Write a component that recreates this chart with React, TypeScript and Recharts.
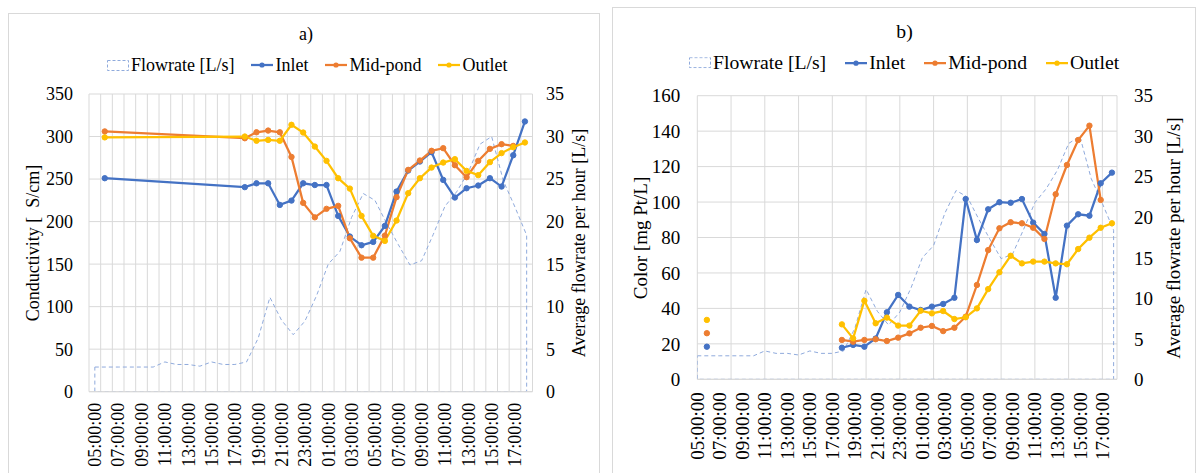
import React from "react";
import { ComposedChart, Line, Area, XAxis, YAxis, CartesianGrid } from "recharts";

const FONT = "Liberation Serif, DejaVu Serif, serif";

// hourly average flowrate [L/s], 05:00 day 1 -> 18:00 day 2
const flowTimes = [
  "05:00", "06:00", "07:00", "08:00", "09:00", "10:00", "11:00", "12:00", "13:00", "14:00",
  "15:00", "16:00", "17:00", "18:00", "19:00", "20:00", "21:00", "22:00", "23:00", "00:00",
  "01:00", "02:00", "03:00", "04:00", "05:00", "06:00", "07:00", "08:00", "09:00", "10:00",
  "11:00", "12:00", "13:00", "14:00", "15:00", "16:00", "17:00", "18:00",
];
const flowrate = [
  2.9, 2.9, 2.9, 2.9, 2.9, 2.9, 3.5, 3.2, 3.2, 3.0,
  3.5, 3.2, 3.2, 3.5, 6.3, 11.1, 8.4, 6.7, 8.3, 11.3,
  15.0, 16.5, 20.5, 23.3, 22.5, 19.8, 17.3, 14.9, 15.4, 18.5,
  21.8, 23.5, 25.8, 29.1, 30.0, 24.8, 21.7, 18.4,
];

// grab sample times
const sampleTimes = [
  "05:51", "17:51", "18:51", "19:51", "20:51", "21:51", "22:51", "23:51", "00:51", "01:51",
  "02:51", "03:51", "04:51", "05:51", "06:51", "07:51", "08:51", "09:51", "10:51", "11:51",
  "12:51", "13:51", "14:51", "15:51", "16:51", "17:51",
];

// conductivity [uS/cm]
const condInlet = [
  251, 240.5, 245, 245, 219.6, 224.7, 245, 243, 243, 206.7, 182.4, 172.2, 176.1,
  194.9, 235.3, 260, 270.6, 281.6, 249, 228.3, 239.2, 242.4, 251, 241.2, 278, 317.7,
];
const condMid = [
  306, 298, 305, 307, 305, 276, 222, 205, 215, 218.5, 180.4, 157.6, 157.6,
  183.5, 228.7, 260.8, 271.8, 283.2, 286.3, 266.3, 252.2, 271.4, 285.5, 291, 289, null,
];
const condOutlet = [
  299, 300, 295, 296, 295, 313.8, 304.7, 288.2, 271.4, 251, 238.8, 206.7, 183.2,
  177.3, 201.2, 233.4, 251, 263.5, 269.4, 273.4, 259.6, 254.6, 269.9, 280.5, 287.5, 293,
];

// color [mg Pt/L]
const colorInlet = [
  18.4, 17.8, 19.4, 18.4, 23, 37.8, 47.6, 41.0, 39.1, 41.0, 42.5, 46.0, 101.7,
  78.6, 95.9, 99.9, 99.6, 101.7, 88.4, 82.0, 46.0, 86.7, 93.1, 92.3, 110.6, 116.6,
];
const colorMid = [
  26.0, 22.2, 21.2, 22.2, 22.6, 21.6, 23.5, 25.9, 29.1, 30.1, 27.2, 29.1, 35.3,
  53.2, 72.9, 85.2, 88.6, 88.0, 85.5, 79.2, 104.4, 120.9, 135.0, 143.1, 101.2, null,
];
const colorOutlet = [
  33.5, 31.0, 23.1, 44.3, 31.6, 34.8, 30.3, 30.3, 38.7, 37.2, 38.5, 34.0, 35.0,
  40.0, 50.9, 60.4, 69.7, 65.4, 66.4, 66.4, 65.4, 64.9, 73.5, 79.9, 85.5, 88.0,
];
// no colour sample between the morning grab and the evening run
const colorGapTime = "11:00";

const xTickLabels = [
  "05:00:00", "07:00:00", "09:00:00", "11:00:00", "13:00:00", "15:00:00", "17:00:00",
  "19:00:00", "21:00:00", "23:00:00", "01:00:00", "03:00:00", "05:00:00", "07:00:00",
  "09:00:00", "11:00:00", "13:00:00", "15:00:00", "17:00:00",
];

const condTicks = [0, 50, 100, 150, 200, 250, 300, 350];
const colorTicks = [0, 20, 40, 60, 80, 100, 120, 140, 160];
const flowTicks = [0, 5, 10, 15, 20, 25, 30, 35];

// hours since 05:00 on day 1, wrapping past midnight
function toHours(list: string[]): number[] {
  let day = 0;
  let prev = -1;
  return list.map((t) => {
    const [hh, mm] = t.split(":").map(Number);
    if (hh < prev) day += 24;
    prev = hh;
    return day + hh + mm / 60 - 5;
  });
}

const flowHours = toHours(flowTimes);
const sampleHours = toHours(sampleTimes);
const tickHours = toHours(xTickLabels);
const tickLabelOf = new Map(tickHours.map((h, i) => [Math.round(h * 100), xTickLabels[i]]));

const flowRows = flowHours.map((h, i) => ({ h, flow: flowrate[i] }));
const condRows = sampleHours.map((h, i) => ({
  h, inlet: condInlet[i], mid: condMid[i], outlet: condOutlet[i],
}));
const colorRows: any[] = sampleHours.map((h, i) => ({
  h, inlet: colorInlet[i], mid: colorMid[i], outlet: colorOutlet[i],
}));
colorRows.splice(1, 0, {
  h: toHours([sampleTimes[0], colorGapTime])[1], inlet: null, mid: null, outlet: null,
});

const C_IN = "#4472C4";
const C_MID = "#ED7D31";
const C_OUT = "#FFC000";
const C_FLOW = "#8FAADC";
const GRID = "#D9D9D9";

const hourGrid: number[] = [];
for (let h = -0.5; h <= 37.5; h += 1) hourGrid.push(h);
const threeHourGrid: number[] = [];
for (let h = 0; h <= 36; h += 3) threeHourGrid.push(h);

const xTick = (fs: number) => (props: any) => {
  const { x, y, payload } = props;
  const label = tickLabelOf.get(Math.round(payload.value * 100)) ?? "";
  return (
    <text x={x} y={y} transform={`rotate(-90 ${x} ${y})`} textAnchor="end" dy="0.35em"
      fontSize={fs} fontFamily={FONT} fill="#000">{label}</text>
  );
};

const LineIcon = ({ color }: { color: string }) => (
  <svg width={22} height={10} style={{ display: "block" }}>
    <line x1={0} y1={5} x2={22} y2={5} stroke={color} strokeWidth={2.25} />
    <circle cx={11} cy={5} r={2.6} fill={color} />
  </svg>
);
const AreaIcon = () => (
  <svg width={22} height={11} style={{ display: "block" }}>
    <rect x={0.5} y={0.5} width={21} height={10} fill="none" stroke={C_FLOW} strokeDasharray="3 2" />
  </svg>
);

type PanelProps = {
  box: [number, number, number, number];
  chartPos: [number, number];
  size: [number, number];
  marginTop: number;
  yLeftW: number;
  yRightW: number;
  xH: number;
  xDomain: [number, number];
  gridHours: number[];
  leftDomain: [number, number];
  leftTicks: number[];
  tickGapL: number;
  tickGapR: number;
  tickGapX: number;
  rows: any[];
  fs: number;
  legendFs: number;
  title: string;
  titlePos: [number, number];
  legendPos: [number, number];
  legendGap: number;
  leftLabel: string;
  leftLabelPos: [number, number];
  rightLabelPos: [number, number];
};

function Panel(p: PanelProps) {
  const tickStyle = { fontSize: p.fs, fontFamily: FONT, fill: "#000" };
  const text = { position: "absolute" as const, fontFamily: FONT, fontSize: p.fs, color: "#000", whiteSpace: "pre" as const, lineHeight: 1 };
  const series = [
    { key: "inlet", color: C_IN },
    { key: "mid", color: C_MID },
    { key: "outlet", color: C_OUT },
  ];
  return (
    <>
      <div style={{ position: "absolute", left: p.box[0], top: p.box[1], width: p.box[2], height: p.box[3], border: `1px solid ${GRID}`, boxSizing: "border-box" }} />
      <div style={{ position: "absolute", left: p.chartPos[0], top: p.chartPos[1] }}>
        <ComposedChart width={p.size[0]} height={p.size[1]} data={flowRows}
          margin={{ top: p.marginTop, right: 0, bottom: 0, left: 0 }}>
          <CartesianGrid xAxisId="g" yAxisId="l" stroke={GRID} strokeWidth={1} fill="none" />
          <XAxis xAxisId="g" orientation="top" type="number" dataKey="h" domain={p.xDomain} ticks={p.gridHours}
            allowDataOverflow interval={0} hide />
          <XAxis xAxisId="t" type="number" dataKey="h" domain={p.xDomain} ticks={tickHours}
            allowDataOverflow interval={0} height={p.xH} tickSize={0} tickMargin={p.tickGapX}
            tickLine={false} axisLine={{ stroke: GRID }} tick={xTick(p.fs)} />
          <YAxis yAxisId="l" orientation="left" type="number" domain={p.leftDomain} ticks={p.leftTicks}
            allowDataOverflow interval={0} width={p.yLeftW} tickSize={0} tickMargin={p.tickGapL}
            tickLine={false} axisLine={false} tick={tickStyle} />
          <YAxis yAxisId="r" orientation="right" type="number" domain={[0, 35]} ticks={flowTicks}
            allowDataOverflow interval={0} width={p.yRightW} tickSize={0} tickMargin={p.tickGapR}
            tickLine={false} axisLine={false} tick={tickStyle} />
          <Area xAxisId="t" yAxisId="r" dataKey="flow" type="linear" className="flow-area"
            stroke="none" fill="none" isAnimationActive={false} dot={false} activeDot={false} />
          {series.map((s) => (
            <Line key={s.key} xAxisId="t" yAxisId="l" data={p.rows} dataKey={s.key} type="linear"
              stroke={s.color} strokeWidth={2.25} connectNulls={false}
              dot={{ r: 2.7, fill: s.color, stroke: s.color, strokeWidth: 1 }}
              activeDot={false} isAnimationActive={false} />
          ))}
        </ComposedChart>
      </div>
      <div style={{ ...text, fontSize: p.legendFs, left: p.titlePos[0], top: p.titlePos[1], transform: "translate(-50%, -50%)" }}>{p.title}</div>
      <div style={{ ...text, fontSize: p.legendFs, left: p.legendPos[0], top: p.legendPos[1], transform: "translateY(-50%)", display: "flex", alignItems: "center", gap: p.legendGap }}>
        <div style={{ display: "flex", alignItems: "center", gap: 2 }}><AreaIcon /><span>Flowrate [L/s]</span></div>
        <div style={{ display: "flex", alignItems: "center", gap: 2 }}><LineIcon color={C_IN} /><span>Inlet</span></div>
        <div style={{ display: "flex", alignItems: "center", gap: 2 }}><LineIcon color={C_MID} /><span>Mid-pond</span></div>
        <div style={{ display: "flex", alignItems: "center", gap: 2 }}><LineIcon color={C_OUT} /><span>Outlet</span></div>
      </div>
      <div style={{ ...text, left: p.leftLabelPos[0], top: p.leftLabelPos[1], transform: "translate(-50%, -50%) rotate(-90deg)" }}>{p.leftLabel}</div>
      <div style={{ ...text, left: p.rightLabelPos[0], top: p.rightLabelPos[1], transform: "translate(-50%, -50%) rotate(-90deg)" }}>Average flowrate per hour [L/s]</div>
    </>
  );
}

export default function App() {
  return (
    <div style={{ position: "relative", width: 1198, height: 473, overflow: "hidden", background: "#fff" }}>
      <style>{`
        body { margin: 0; }
        .flow-area .recharts-area-area { stroke: ${C_FLOW}; stroke-width: 1; stroke-dasharray: 4 3; fill: none; }
      `}</style>
      <Panel
        box={[8, 13, 592, 470]}
        chartPos={[8, 13]}
        size={[592, 460]}
        marginTop={81}
        yLeftW={81}
        yRightW={67.5}
        xH={81.3}
        xDomain={[-0.5, 37.5]}
        gridHours={hourGrid}
        leftDomain={[0, 350]}
        leftTicks={condTicks}
        tickGapL={16}
        tickGapR={13.5}
        tickGapX={11}
        rows={condRows}
        fs={18}
        legendFs={18}
        title="a)"
        titlePos={[306, 34]}
        legendPos={[107, 65]}
        legendGap={17}
        leftLabel="Conductivity [  S/cm]"
        leftLabelPos={[33, 243]}
        rightLabelPos={[579, 243]}
      />
      <Panel
        box={[612, 7, 584, 470]}
        chartPos={[612, 7]}
        size={[584, 466]}
        marginTop={88.7}
        yLeftW={85.3}
        yRightW={79}
        xH={93.7}
        xDomain={[0, 37.3]}
        gridHours={threeHourGrid}
        leftDomain={[0, 160]}
        leftTicks={colorTicks}
        tickGapL={17}
        tickGapR={17}
        tickGapX={13}
        rows={colorRows}
        fs={19}
        legendFs={19.7}
        title="b)"
        titlePos={[904.5, 31.5]}
        legendPos={[689, 63]}
        legendGap={19}
        leftLabel="Color [mg Pt/L]"
        leftLabelPos={[640, 237.5]}
        rightLabelPos={[1173, 237.5]}
      />
    </div>
  );
}
